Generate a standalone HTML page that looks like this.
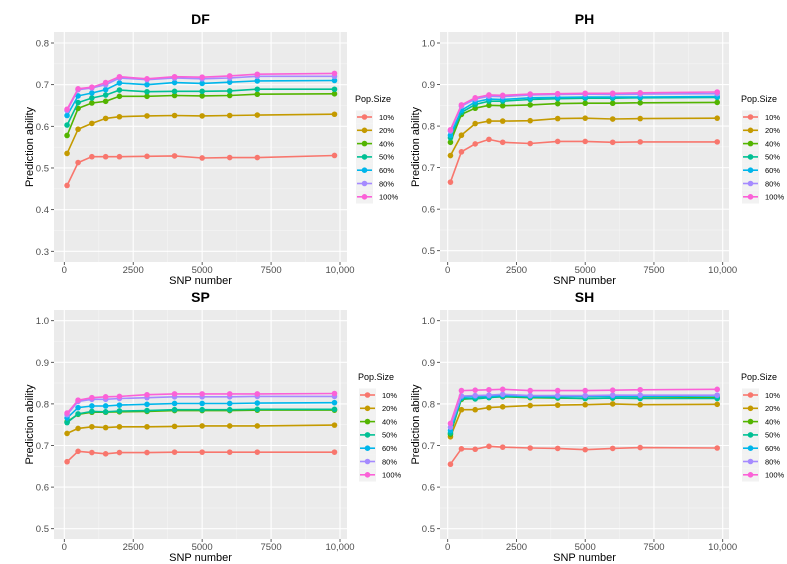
<!DOCTYPE html>
<html><head><meta charset="utf-8"><style>
body{margin:0;background:#fff;}
svg{display:block;font-family:"Liberation Sans",sans-serif;}
</style></head><body>
<svg id="chart" width="787" height="564" viewBox="0 0 787 564" xmlns="http://www.w3.org/2000/svg"></svg>
<script>
const snpNumbers = [100,500,1000,1500,2000,3000,4000,5000,6000,7000,9800];
const popSizes = ["10%","20%","40%","50%","60%","80%","100%"];
const colors = ["#F8766D","#C49A00","#53B400","#00C094","#00B6EB","#A58AFF","#FB61D7"];
const xTicks = [0,2500,5000,7500,10000];
const xTickLabels = ["0","2500","5000","7500","10,000"];
const dfTicks = [0.3,0.4,0.5,0.6,0.7,0.8];
const hiTicks = [0.5,0.6,0.7,0.8,0.9,1.0];
const dfValues = [
[.458,.513,.527,.527,.527,.528,.529,.524,.525,.525,.530],
[.535,.593,.607,.619,.623,.625,.626,.625,.626,.627,.629],
[.578,.643,.656,.660,.672,.672,.674,.673,.674,.677,.678],
[.603,.657,.668,.675,.687,.683,.684,.684,.685,.689,.689],
[.626,.673,.680,.688,.704,.700,.705,.703,.706,.709,.710],
[.638,.688,.692,.700,.716,.712,.716,.714,.716,.720,.720],
[.641,.690,.694,.705,.719,.714,.719,.718,.721,.725,.727]];
const phValues = [
[.665,.738,.757,.768,.761,.758,.763,.763,.761,.762,.762],
[.729,.778,.806,.812,.812,.813,.818,.819,.817,.818,.819],
[.761,.828,.843,.850,.849,.851,.854,.855,.855,.856,.857],
[.772,.833,.852,.860,.860,.864,.866,.867,.867,.868,.869],
[.778,.838,.858,.865,.864,.868,.869,.870,.870,.870,.871],
[.788,.848,.865,.872,.871,.875,.876,.877,.876,.877,.878],
[.791,.851,.868,.875,.874,.877,.878,.879,.879,.880,.882]];
const spValues = [
[.661,.686,.683,.680,.683,.683,.684,.684,.684,.684,.684],
[.729,.741,.745,.743,.745,.745,.746,.747,.747,.747,.749],
[.757,.775,.780,.780,.781,.782,.784,.784,.784,.785,.785],
[.755,.776,.782,.781,.783,.784,.786,.786,.786,.787,.787],
[.766,.791,.795,.795,.797,.799,.801,.801,.801,.802,.803],
[.774,.806,.811,.811,.813,.815,.817,.817,.817,.818,.818],
[.778,.809,.815,.817,.818,.822,.824,.824,.824,.824,.825]];
const shValues = [
[.655,.692,.691,.698,.696,.694,.693,.690,.693,.695,.694],
[.721,.786,.786,.791,.793,.796,.797,.798,.800,.798,.799],
[.727,.811,.813,.816,.817,.815,.814,.813,.814,.814,.815],
[.730,.813,.812,.815,.818,.816,.815,.813,.814,.813,.813],
[.736,.816,.817,.818,.820,.818,.818,.818,.818,.818,.819],
[.744,.819,.820,.821,.823,.820,.820,.820,.821,.821,.821],
[.753,.832,.833,.834,.835,.832,.832,.832,.833,.834,.835]];

const NS="http://www.w3.org/2000/svg";
const svg=document.getElementById('chart');
function mk(tag,attrs,parent,text){const e=document.createElementNS(NS,tag);for(const k in attrs)e.setAttribute(k,attrs[k]);if(text!==undefined)e.textContent=text;(parent||svg).appendChild(e);return e;}

function panel(name,values,ticks,L,R,T,B,x0px,x10kpx,yLoTick,yLoPx,yHiTick,yHiPx,legX,legY){
  const g=mk('g',{});
  
  
  const xs=v=>x0px+(x10kpx-x0px)*v/10000;
  const ys=v=>yLoPx+(yHiPx-yLoPx)*(v-yLoTick)/(yHiTick-yLoTick);
  const bg=mk('rect',{x:L,y:T,width:R-L,height:B-T,fill:'#EBEBEB'},g);
  
  
  // minor grid
  for(let i=0;i<xTicks.length-1;i++){const xm=xs((xTicks[i]+xTicks[i+1])/2);mk('line',{x1:xm,x2:xm,y1:T,y2:B,stroke:'#F5F5F5','stroke-width':0.6},g);}
  for(let i=0;i<ticks.length-1;i++){const ym=ys((ticks[i]+ticks[i+1])/2);mk('line',{x1:L,x2:R,y1:ym,y2:ym,stroke:'#F5F5F5','stroke-width':0.6},g);}
  xTicks.forEach((t,i)=>{const x=xs(t);
    mk('line',{x1:x,x2:x,y1:T,y2:B,stroke:'#fff','stroke-width':1.1},g);
    mk('line',{x1:x,x2:x,y1:B,y2:B+3,stroke:'#333','stroke-width':0.8},g);
    const tl=mk('text',{x:x,y:B+11,'font-size':9.5,fill:'#4D4D4D','text-anchor':'middle'},g,xTickLabels[i]);
    
    
  });
  ticks.forEach(t=>{const y=ys(t);
    mk('line',{x1:L,x2:R,y1:y,y2:y,stroke:'#fff','stroke-width':1.1},g);
    mk('line',{x1:L-3,x2:L,y1:y,y2:y,stroke:'#333','stroke-width':0.8},g);
    const tl=mk('text',{x:L-5,y:y+3.5,'font-size':9.5,fill:'#4D4D4D','text-anchor':'end'},g,t.toFixed(1));
    
    
  });
  values.forEach((ser,si)=>{
    const pts=ser.map((v,i)=>xs(snpNumbers[i]).toFixed(1)+','+ys(v).toFixed(1)).join(' ');
    const pl=mk('polyline',{points:pts,fill:'none',stroke:colors[si],'stroke-width':1.6},g);
    
    
    ser.forEach((v,i)=>{
      const c=mk('circle',{cx:xs(snpNumbers[i]),cy:ys(v),r:2.8,fill:colors[si]},g);
      
      
    });
  });
  const tt=mk('text',{x:(L+R)/2,y:T-8,'font-size':14,'font-weight':'bold','text-anchor':'middle',fill:'#000'},g,name);
  
  
  const xt=mk('text',{x:(L+R)/2,y:B+22,'font-size':11,'text-anchor':'middle',fill:'#000'},g,'SNP number');
  
  
  const yt=mk('text',{x:0,y:0,'font-size':11,'text-anchor':'middle',fill:'#000',transform:`translate(${L-21},${(T+B)/2}) rotate(-90)`},g,'Prediction ability');
  
  
  const lg=mk('g',{},g);
  
  
  mk('text',{x:legX,y:legY,'font-size':9,fill:'#000'},lg,'Pop.Size');
  popSizes.forEach((p,i)=>{
    const cy=legY+15+i*13.3;
    const e=mk('g',{},lg);
    
    
    mk('rect',{x:legX+1,y:cy-6.6,width:17,height:13.3,fill:'#F2F2F2'},e);
    mk('line',{x1:legX+2,x2:legX+17,y1:cy,y2:cy,stroke:colors[i],'stroke-width':1.6},e);
    mk('circle',{cx:legX+9.5,cy:cy,r:2.8,fill:colors[i]},e);
    mk('text',{x:legX+24,y:cy+2.8,'font-size':7.5,fill:'#000'},e,p);
  });
}
panel('DF',dfValues,dfTicks,54,347,32,262,64.3,340,0.3,251.3,0.8,43,355,102);
panel('PH',phValues,hiTicks,440,729,32,262,447.7,722.7,0.5,250.7,1.0,43,741,102);
panel('SP',spValues,hiTicks,54,347,310,539,64.3,340,0.5,528.7,1.0,320.7,358,380);
panel('SH',shValues,hiTicks,440,729,310,539,447.7,722.7,0.5,528.7,1.0,320.7,741,380);
</script>
</body></html>
